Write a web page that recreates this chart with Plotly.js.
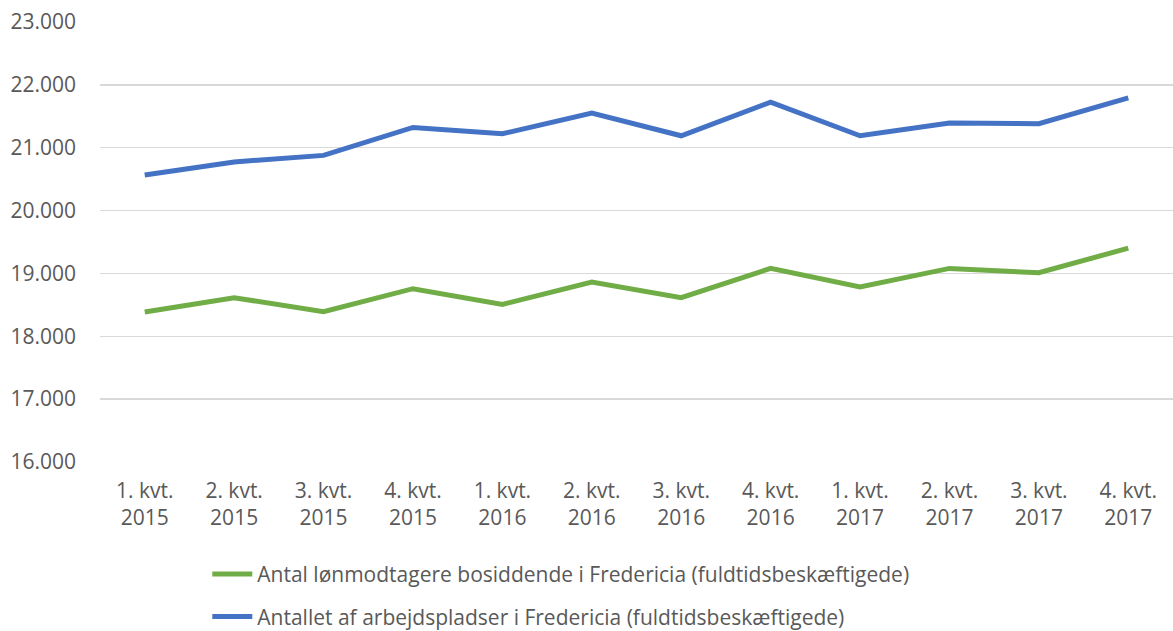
<!DOCTYPE html>
<html>
<head>
<meta charset="utf-8">
<script src="https://cdn.plot.ly/plotly-3.0.1.min.js"></script>
<style>html,body{margin:0;padding:0;background:#fff;}#chart{width:1173px;height:631px;}</style>
</head>
<body>
<div id="chart"></div>
<script>
const categories = ["1. kvt.<br>2015","2. kvt.<br>2015","3. kvt.<br>2015","4. kvt.<br>2015",
  "1. kvt.<br>2016","2. kvt.<br>2016","3. kvt.<br>2016","4. kvt.<br>2016",
  "1. kvt.<br>2017","2. kvt.<br>2017","3. kvt.<br>2017","4. kvt.<br>2017"];
const residentsName = "Antal lønmodtagere bosiddende i Fredericia (fuldtidsbeskæftigede)";
const residents = [18386, 18614, 18392, 18757, 18508, 18862, 18614, 19080, 18783, 19080, 19011, 19402];
const jobsName = "Antallet af arbejdspladser i Fredericia (fuldtidsbeskæftigede)";
const jobs = [20567, 20773, 20878, 21322, 21222, 21551, 21190, 21725, 21190, 21392, 21381, 21794];
const yTicks = [16000, 17000, 18000, 19000, 20000, 21000, 22000, 23000];

const font = {family: "Open Sans, sans-serif", size: 21, color: "#595959"};
const traces = [
  {x: categories, y: residents, name: residentsName, type: "scatter", mode: "lines",
   line: {color: "#70AD47", width: 5}, legendgroup: "a"},
  {x: categories, y: jobs, name: jobsName, type: "scatter", mode: "lines",
   line: {color: "#4472C4", width: 5}, legendgroup: "b"}
];
const layout = {
  width: 1173, height: 631,
  margin: {l: 100, r: 0, t: 22, b: 169, autoexpand: false},
  paper_bgcolor: "#fff", plot_bgcolor: "#fff",
  separators: ",.",
  font: font,
  showlegend: true,
  legend: {orientation: "v", x: 0.1, xanchor: "left", y: -0.209, yanchor: "top",
           font: font, tracegroupgap: 12, itemwidth: 40},
  xaxis: {type: "category", range: [-0.5, 11.5], showgrid: false, zeroline: false, showline: false,
          ticks: "", tickfont: font, ticklabelstandoff: 14},
  yaxis: {range: [16000, 23000], tickvals: yTicks, tickformat: ",.0f",
          showgrid: true, gridcolor: "#D9D9D9", gridwidth: 1.5, zeroline: false,
          showline: false, ticks: "", tickfont: font, ticklabelstandoff: 23}
};
Plotly.newPlot("chart", traces, layout, {displayModeBar: false, staticPlot: true});
</script>
</body>
</html>
